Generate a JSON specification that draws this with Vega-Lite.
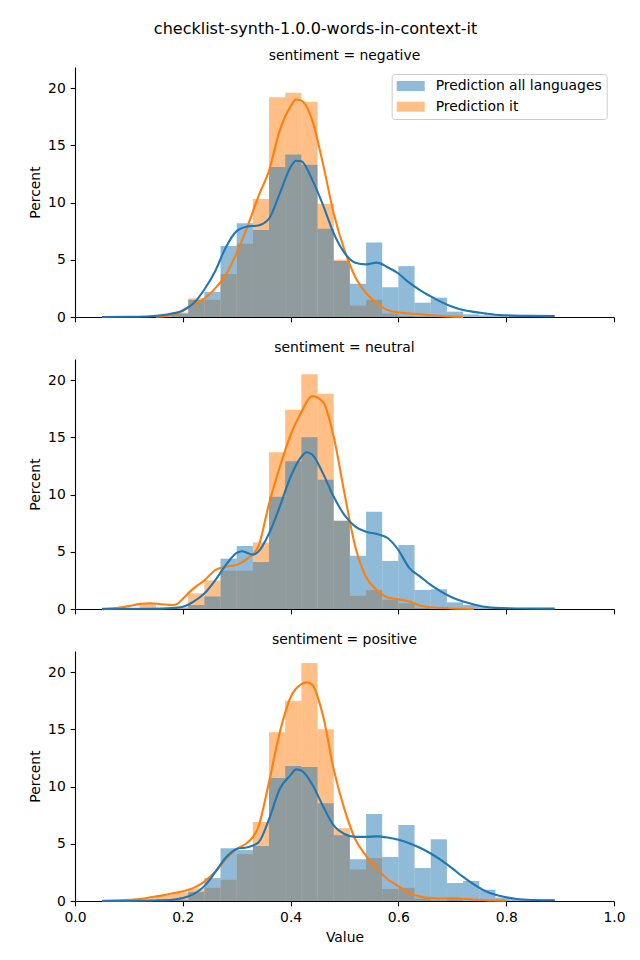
{
  "$schema": "https://vega.github.io/schema/vega-lite/v6.json",
  "padding": {"left": 28, "top": 21, "right": 15, "bottom": 10},
  "background": "white",
  "title": {"text": "checklist-synth-1.0.0-words-in-context-it", "fontSize": 16, "fontWeight": "normal", "font": "DejaVu Sans", "color": "#000", "anchor": "middle", "frame": "group", "dx": -29, "baseline": "alphabetic", "offset": -1},
  "spacing": 17,
  "resolve": {"legend": {"color": "independent"}},
  "datasets": {
    "bars": [
      {"sentiment": "negative", "series": "Prediction all languages", "bin_start": 0.06, "bin_end": 0.09, "percent": 0.05},
      {"sentiment": "negative", "series": "Prediction all languages", "bin_start": 0.09, "bin_end": 0.12, "percent": 0.05},
      {"sentiment": "negative", "series": "Prediction all languages", "bin_start": 0.12, "bin_end": 0.15, "percent": 0.05},
      {"sentiment": "negative", "series": "Prediction all languages", "bin_start": 0.15, "bin_end": 0.18, "percent": 0.05},
      {"sentiment": "negative", "series": "Prediction all languages", "bin_start": 0.18, "bin_end": 0.21, "percent": 0.3},
      {"sentiment": "negative", "series": "Prediction all languages", "bin_start": 0.21, "bin_end": 0.24, "percent": 1.5},
      {"sentiment": "negative", "series": "Prediction all languages", "bin_start": 0.24, "bin_end": 0.27, "percent": 2.2},
      {"sentiment": "negative", "series": "Prediction all languages", "bin_start": 0.27, "bin_end": 0.3, "percent": 6.2},
      {"sentiment": "negative", "series": "Prediction all languages", "bin_start": 0.3, "bin_end": 0.33, "percent": 8.2},
      {"sentiment": "negative", "series": "Prediction all languages", "bin_start": 0.33, "bin_end": 0.36, "percent": 7.6},
      {"sentiment": "negative", "series": "Prediction all languages", "bin_start": 0.36, "bin_end": 0.39, "percent": 13.1},
      {"sentiment": "negative", "series": "Prediction all languages", "bin_start": 0.39, "bin_end": 0.42, "percent": 14.2},
      {"sentiment": "negative", "series": "Prediction all languages", "bin_start": 0.42, "bin_end": 0.45, "percent": 13.3},
      {"sentiment": "negative", "series": "Prediction all languages", "bin_start": 0.45, "bin_end": 0.48, "percent": 7.7},
      {"sentiment": "negative", "series": "Prediction all languages", "bin_start": 0.48, "bin_end": 0.51, "percent": 4.9},
      {"sentiment": "negative", "series": "Prediction all languages", "bin_start": 0.51, "bin_end": 0.54, "percent": 2.9},
      {"sentiment": "negative", "series": "Prediction all languages", "bin_start": 0.54, "bin_end": 0.57, "percent": 6.5},
      {"sentiment": "negative", "series": "Prediction all languages", "bin_start": 0.57, "bin_end": 0.6, "percent": 2.6},
      {"sentiment": "negative", "series": "Prediction all languages", "bin_start": 0.6, "bin_end": 0.63, "percent": 4.45},
      {"sentiment": "negative", "series": "Prediction all languages", "bin_start": 0.63, "bin_end": 0.66, "percent": 1.25},
      {"sentiment": "negative", "series": "Prediction all languages", "bin_start": 0.66, "bin_end": 0.69, "percent": 1.69},
      {"sentiment": "negative", "series": "Prediction all languages", "bin_start": 0.69, "bin_end": 0.72, "percent": 0.47},
      {"sentiment": "negative", "series": "Prediction all languages", "bin_start": 0.72, "bin_end": 0.75, "percent": 0.23},
      {"sentiment": "negative", "series": "Prediction all languages", "bin_start": 0.75, "bin_end": 0.78, "percent": 0.15},
      {"sentiment": "negative", "series": "Prediction all languages", "bin_start": 0.78, "bin_end": 0.81, "percent": 0.1},
      {"sentiment": "negative", "series": "Prediction all languages", "bin_start": 0.81, "bin_end": 0.84, "percent": 0.08},
      {"sentiment": "negative", "series": "Prediction all languages", "bin_start": 0.84, "bin_end": 0.87, "percent": 0.08},
      {"sentiment": "negative", "series": "Prediction all languages", "bin_start": 0.87, "bin_end": 0.89, "percent": 0.05},
      {"sentiment": "negative", "series": "Prediction it", "bin_start": 0.15, "bin_end": 0.18, "percent": 0.05},
      {"sentiment": "negative", "series": "Prediction it", "bin_start": 0.18, "bin_end": 0.21, "percent": 0.4},
      {"sentiment": "negative", "series": "Prediction it", "bin_start": 0.21, "bin_end": 0.24, "percent": 1.63},
      {"sentiment": "negative", "series": "Prediction it", "bin_start": 0.24, "bin_end": 0.27, "percent": 1.5},
      {"sentiment": "negative", "series": "Prediction it", "bin_start": 0.27, "bin_end": 0.3, "percent": 3.75},
      {"sentiment": "negative", "series": "Prediction it", "bin_start": 0.3, "bin_end": 0.33, "percent": 6.4},
      {"sentiment": "negative", "series": "Prediction it", "bin_start": 0.33, "bin_end": 0.36, "percent": 10.3},
      {"sentiment": "negative", "series": "Prediction it", "bin_start": 0.36, "bin_end": 0.39, "percent": 19.2},
      {"sentiment": "negative", "series": "Prediction it", "bin_start": 0.39, "bin_end": 0.42, "percent": 19.6},
      {"sentiment": "negative", "series": "Prediction it", "bin_start": 0.42, "bin_end": 0.45, "percent": 18.8},
      {"sentiment": "negative", "series": "Prediction it", "bin_start": 0.45, "bin_end": 0.48, "percent": 9.9},
      {"sentiment": "negative", "series": "Prediction it", "bin_start": 0.48, "bin_end": 0.51, "percent": 5.0},
      {"sentiment": "negative", "series": "Prediction it", "bin_start": 0.51, "bin_end": 0.54, "percent": 1.0},
      {"sentiment": "negative", "series": "Prediction it", "bin_start": 0.54, "bin_end": 0.57, "percent": 1.5},
      {"sentiment": "negative", "series": "Prediction it", "bin_start": 0.57, "bin_end": 0.6, "percent": 0.3},
      {"sentiment": "negative", "series": "Prediction it", "bin_start": 0.6, "bin_end": 0.63, "percent": 0.1},
      {"sentiment": "negative", "series": "Prediction it", "bin_start": 0.63, "bin_end": 0.66, "percent": 0.05},

      {"sentiment": "neutral", "series": "Prediction all languages", "bin_start": 0.12, "bin_end": 0.15, "percent": 0.02},
      {"sentiment": "neutral", "series": "Prediction all languages", "bin_start": 0.18, "bin_end": 0.21, "percent": 0.05},
      {"sentiment": "neutral", "series": "Prediction all languages", "bin_start": 0.21, "bin_end": 0.24, "percent": 0.35},
      {"sentiment": "neutral", "series": "Prediction all languages", "bin_start": 0.24, "bin_end": 0.27, "percent": 1.1},
      {"sentiment": "neutral", "series": "Prediction all languages", "bin_start": 0.27, "bin_end": 0.3, "percent": 4.4},
      {"sentiment": "neutral", "series": "Prediction all languages", "bin_start": 0.3, "bin_end": 0.33, "percent": 5.5},
      {"sentiment": "neutral", "series": "Prediction all languages", "bin_start": 0.33, "bin_end": 0.36, "percent": 4.1},
      {"sentiment": "neutral", "series": "Prediction all languages", "bin_start": 0.36, "bin_end": 0.39, "percent": 9.8},
      {"sentiment": "neutral", "series": "Prediction all languages", "bin_start": 0.39, "bin_end": 0.42, "percent": 12.9},
      {"sentiment": "neutral", "series": "Prediction all languages", "bin_start": 0.42, "bin_end": 0.45, "percent": 15.0},
      {"sentiment": "neutral", "series": "Prediction all languages", "bin_start": 0.45, "bin_end": 0.48, "percent": 11.3},
      {"sentiment": "neutral", "series": "Prediction all languages", "bin_start": 0.48, "bin_end": 0.51, "percent": 7.7},
      {"sentiment": "neutral", "series": "Prediction all languages", "bin_start": 0.51, "bin_end": 0.54, "percent": 4.65},
      {"sentiment": "neutral", "series": "Prediction all languages", "bin_start": 0.54, "bin_end": 0.57, "percent": 8.5},
      {"sentiment": "neutral", "series": "Prediction all languages", "bin_start": 0.57, "bin_end": 0.6, "percent": 4.2},
      {"sentiment": "neutral", "series": "Prediction all languages", "bin_start": 0.6, "bin_end": 0.63, "percent": 5.6},
      {"sentiment": "neutral", "series": "Prediction all languages", "bin_start": 0.63, "bin_end": 0.66, "percent": 1.66},
      {"sentiment": "neutral", "series": "Prediction all languages", "bin_start": 0.66, "bin_end": 0.69, "percent": 1.72},
      {"sentiment": "neutral", "series": "Prediction all languages", "bin_start": 0.69, "bin_end": 0.72, "percent": 0.58},
      {"sentiment": "neutral", "series": "Prediction all languages", "bin_start": 0.72, "bin_end": 0.75, "percent": 0.35},
      {"sentiment": "neutral", "series": "Prediction all languages", "bin_start": 0.75, "bin_end": 0.78, "percent": 0.15},
      {"sentiment": "neutral", "series": "Prediction all languages", "bin_start": 0.78, "bin_end": 0.81, "percent": 0.05},
      {"sentiment": "neutral", "series": "Prediction all languages", "bin_start": 0.81, "bin_end": 0.84, "percent": 0.05},
      {"sentiment": "neutral", "series": "Prediction all languages", "bin_start": 0.84, "bin_end": 0.87, "percent": 0.05},
      {"sentiment": "neutral", "series": "Prediction all languages", "bin_start": 0.87, "bin_end": 0.89, "percent": 0.05},
      {"sentiment": "neutral", "series": "Prediction it", "bin_start": 0.12, "bin_end": 0.15, "percent": 0.5},
      {"sentiment": "neutral", "series": "Prediction it", "bin_start": 0.15, "bin_end": 0.18, "percent": 0.1},
      {"sentiment": "neutral", "series": "Prediction it", "bin_start": 0.18, "bin_end": 0.21, "percent": 0.2},
      {"sentiment": "neutral", "series": "Prediction it", "bin_start": 0.21, "bin_end": 0.24, "percent": 1.37},
      {"sentiment": "neutral", "series": "Prediction it", "bin_start": 0.24, "bin_end": 0.27, "percent": 2.5},
      {"sentiment": "neutral", "series": "Prediction it", "bin_start": 0.27, "bin_end": 0.3, "percent": 3.35},
      {"sentiment": "neutral", "series": "Prediction it", "bin_start": 0.3, "bin_end": 0.33, "percent": 3.35},
      {"sentiment": "neutral", "series": "Prediction it", "bin_start": 0.33, "bin_end": 0.36, "percent": 5.8},
      {"sentiment": "neutral", "series": "Prediction it", "bin_start": 0.36, "bin_end": 0.39, "percent": 13.7},
      {"sentiment": "neutral", "series": "Prediction it", "bin_start": 0.39, "bin_end": 0.42, "percent": 17.4},
      {"sentiment": "neutral", "series": "Prediction it", "bin_start": 0.42, "bin_end": 0.45, "percent": 20.5},
      {"sentiment": "neutral", "series": "Prediction it", "bin_start": 0.45, "bin_end": 0.48, "percent": 18.8},
      {"sentiment": "neutral", "series": "Prediction it", "bin_start": 0.48, "bin_end": 0.51, "percent": 7.7},
      {"sentiment": "neutral", "series": "Prediction it", "bin_start": 0.51, "bin_end": 0.54, "percent": 1.15},
      {"sentiment": "neutral", "series": "Prediction it", "bin_start": 0.54, "bin_end": 0.57, "percent": 1.65},
      {"sentiment": "neutral", "series": "Prediction it", "bin_start": 0.57, "bin_end": 0.6, "percent": 0.8},
      {"sentiment": "neutral", "series": "Prediction it", "bin_start": 0.6, "bin_end": 0.63, "percent": 0.5},
      {"sentiment": "neutral", "series": "Prediction it", "bin_start": 0.63, "bin_end": 0.66, "percent": 0.1},

      {"sentiment": "positive", "series": "Prediction all languages", "bin_start": 0.18, "bin_end": 0.21, "percent": 0.1},
      {"sentiment": "positive", "series": "Prediction all languages", "bin_start": 0.21, "bin_end": 0.24, "percent": 0.8},
      {"sentiment": "positive", "series": "Prediction all languages", "bin_start": 0.24, "bin_end": 0.27, "percent": 2.0},
      {"sentiment": "positive", "series": "Prediction all languages", "bin_start": 0.27, "bin_end": 0.3, "percent": 4.6},
      {"sentiment": "positive", "series": "Prediction all languages", "bin_start": 0.3, "bin_end": 0.33, "percent": 4.45},
      {"sentiment": "positive", "series": "Prediction all languages", "bin_start": 0.33, "bin_end": 0.36, "percent": 4.8},
      {"sentiment": "positive", "series": "Prediction all languages", "bin_start": 0.36, "bin_end": 0.39, "percent": 10.75},
      {"sentiment": "positive", "series": "Prediction all languages", "bin_start": 0.39, "bin_end": 0.42, "percent": 11.8},
      {"sentiment": "positive", "series": "Prediction all languages", "bin_start": 0.42, "bin_end": 0.45, "percent": 11.7},
      {"sentiment": "positive", "series": "Prediction all languages", "bin_start": 0.45, "bin_end": 0.48, "percent": 8.55},
      {"sentiment": "positive", "series": "Prediction all languages", "bin_start": 0.48, "bin_end": 0.51, "percent": 5.75},
      {"sentiment": "positive", "series": "Prediction all languages", "bin_start": 0.51, "bin_end": 0.54, "percent": 3.65},
      {"sentiment": "positive", "series": "Prediction all languages", "bin_start": 0.54, "bin_end": 0.57, "percent": 7.6},
      {"sentiment": "positive", "series": "Prediction all languages", "bin_start": 0.57, "bin_end": 0.6, "percent": 3.85},
      {"sentiment": "positive", "series": "Prediction all languages", "bin_start": 0.6, "bin_end": 0.63, "percent": 6.65},
      {"sentiment": "positive", "series": "Prediction all languages", "bin_start": 0.63, "bin_end": 0.66, "percent": 2.88},
      {"sentiment": "positive", "series": "Prediction all languages", "bin_start": 0.66, "bin_end": 0.69, "percent": 5.4},
      {"sentiment": "positive", "series": "Prediction all languages", "bin_start": 0.69, "bin_end": 0.72, "percent": 1.57},
      {"sentiment": "positive", "series": "Prediction all languages", "bin_start": 0.72, "bin_end": 0.75, "percent": 1.75},
      {"sentiment": "positive", "series": "Prediction all languages", "bin_start": 0.75, "bin_end": 0.78, "percent": 0.99},
      {"sentiment": "positive", "series": "Prediction all languages", "bin_start": 0.78, "bin_end": 0.81, "percent": 0.3},
      {"sentiment": "positive", "series": "Prediction all languages", "bin_start": 0.81, "bin_end": 0.84, "percent": 0.15},
      {"sentiment": "positive", "series": "Prediction all languages", "bin_start": 0.84, "bin_end": 0.87, "percent": 0.15},
      {"sentiment": "positive", "series": "Prediction all languages", "bin_start": 0.87, "bin_end": 0.89, "percent": 0.15},
      {"sentiment": "positive", "series": "Prediction it", "bin_start": 0.12, "bin_end": 0.15, "percent": 0.25},
      {"sentiment": "positive", "series": "Prediction it", "bin_start": 0.15, "bin_end": 0.18, "percent": 0.5},
      {"sentiment": "positive", "series": "Prediction it", "bin_start": 0.18, "bin_end": 0.21, "percent": 0.75},
      {"sentiment": "positive", "series": "Prediction it", "bin_start": 0.21, "bin_end": 0.24, "percent": 1.1},
      {"sentiment": "positive", "series": "Prediction it", "bin_start": 0.24, "bin_end": 0.27, "percent": 1.15},
      {"sentiment": "positive", "series": "Prediction it", "bin_start": 0.27, "bin_end": 0.3, "percent": 1.85},
      {"sentiment": "positive", "series": "Prediction it", "bin_start": 0.3, "bin_end": 0.33, "percent": 4.1},
      {"sentiment": "positive", "series": "Prediction it", "bin_start": 0.33, "bin_end": 0.36, "percent": 6.9},
      {"sentiment": "positive", "series": "Prediction it", "bin_start": 0.36, "bin_end": 0.39, "percent": 14.75},
      {"sentiment": "positive", "series": "Prediction it", "bin_start": 0.39, "bin_end": 0.42, "percent": 17.5},
      {"sentiment": "positive", "series": "Prediction it", "bin_start": 0.42, "bin_end": 0.45, "percent": 20.8},
      {"sentiment": "positive", "series": "Prediction it", "bin_start": 0.45, "bin_end": 0.48, "percent": 15.0},
      {"sentiment": "positive", "series": "Prediction it", "bin_start": 0.48, "bin_end": 0.51, "percent": 6.35},
      {"sentiment": "positive", "series": "Prediction it", "bin_start": 0.51, "bin_end": 0.54, "percent": 2.75},
      {"sentiment": "positive", "series": "Prediction it", "bin_start": 0.54, "bin_end": 0.57, "percent": 3.75},
      {"sentiment": "positive", "series": "Prediction it", "bin_start": 0.57, "bin_end": 0.6, "percent": 1.05},
      {"sentiment": "positive", "series": "Prediction it", "bin_start": 0.6, "bin_end": 0.63, "percent": 1.15},
      {"sentiment": "positive", "series": "Prediction it", "bin_start": 0.63, "bin_end": 0.66, "percent": 0.2},
      {"sentiment": "positive", "series": "Prediction it", "bin_start": 0.66, "bin_end": 0.69, "percent": 0.05},
      {"sentiment": "positive", "series": "Prediction it", "bin_start": 0.69, "bin_end": 0.72, "percent": 0.2}
    ],
    "kde": [
      {"sentiment": "negative", "series": "all", "x": 0.05, "y": 0.0},
      {"sentiment": "negative", "series": "all", "x": 0.1, "y": 0.02},
      {"sentiment": "negative", "series": "all", "x": 0.14, "y": 0.07},
      {"sentiment": "negative", "series": "all", "x": 0.16, "y": 0.15},
      {"sentiment": "negative", "series": "all", "x": 0.18, "y": 0.3},
      {"sentiment": "negative", "series": "all", "x": 0.2, "y": 0.55},
      {"sentiment": "negative", "series": "all", "x": 0.22, "y": 1.2},
      {"sentiment": "negative", "series": "all", "x": 0.24, "y": 2.4},
      {"sentiment": "negative", "series": "all", "x": 0.26, "y": 4.0},
      {"sentiment": "negative", "series": "all", "x": 0.28, "y": 6.1},
      {"sentiment": "negative", "series": "all", "x": 0.3, "y": 7.5},
      {"sentiment": "negative", "series": "all", "x": 0.32, "y": 7.9},
      {"sentiment": "negative", "series": "all", "x": 0.34, "y": 8.0},
      {"sentiment": "negative", "series": "all", "x": 0.36, "y": 8.6},
      {"sentiment": "negative", "series": "all", "x": 0.38, "y": 10.8},
      {"sentiment": "negative", "series": "all", "x": 0.4, "y": 13.1},
      {"sentiment": "negative", "series": "all", "x": 0.41, "y": 13.65},
      {"sentiment": "negative", "series": "all", "x": 0.42, "y": 13.6},
      {"sentiment": "negative", "series": "all", "x": 0.44, "y": 12.0},
      {"sentiment": "negative", "series": "all", "x": 0.46, "y": 9.8},
      {"sentiment": "negative", "series": "all", "x": 0.48, "y": 7.3},
      {"sentiment": "negative", "series": "all", "x": 0.5, "y": 5.6},
      {"sentiment": "negative", "series": "all", "x": 0.52, "y": 4.75},
      {"sentiment": "negative", "series": "all", "x": 0.54, "y": 4.6},
      {"sentiment": "negative", "series": "all", "x": 0.56, "y": 4.75},
      {"sentiment": "negative", "series": "all", "x": 0.58, "y": 4.35},
      {"sentiment": "negative", "series": "all", "x": 0.6, "y": 3.8},
      {"sentiment": "negative", "series": "all", "x": 0.62, "y": 3.0},
      {"sentiment": "negative", "series": "all", "x": 0.64, "y": 2.35},
      {"sentiment": "negative", "series": "all", "x": 0.66, "y": 1.8},
      {"sentiment": "negative", "series": "all", "x": 0.68, "y": 1.3},
      {"sentiment": "negative", "series": "all", "x": 0.7, "y": 0.9},
      {"sentiment": "negative", "series": "all", "x": 0.72, "y": 0.62},
      {"sentiment": "negative", "series": "all", "x": 0.74, "y": 0.45},
      {"sentiment": "negative", "series": "all", "x": 0.76, "y": 0.32},
      {"sentiment": "negative", "series": "all", "x": 0.78, "y": 0.2},
      {"sentiment": "negative", "series": "all", "x": 0.8, "y": 0.15},
      {"sentiment": "negative", "series": "all", "x": 0.84, "y": 0.1},
      {"sentiment": "negative", "series": "all", "x": 0.89, "y": 0.08},
      {"sentiment": "negative", "series": "it", "x": 0.15, "y": 0.02},
      {"sentiment": "negative", "series": "it", "x": 0.17, "y": 0.1},
      {"sentiment": "negative", "series": "it", "x": 0.19, "y": 0.3},
      {"sentiment": "negative", "series": "it", "x": 0.2, "y": 0.6},
      {"sentiment": "negative", "series": "it", "x": 0.22, "y": 1.1},
      {"sentiment": "negative", "series": "it", "x": 0.24, "y": 1.6},
      {"sentiment": "negative", "series": "it", "x": 0.26, "y": 2.5},
      {"sentiment": "negative", "series": "it", "x": 0.28, "y": 3.7},
      {"sentiment": "negative", "series": "it", "x": 0.3, "y": 5.6},
      {"sentiment": "negative", "series": "it", "x": 0.32, "y": 7.9},
      {"sentiment": "negative", "series": "it", "x": 0.34, "y": 10.5},
      {"sentiment": "negative", "series": "it", "x": 0.36, "y": 12.8},
      {"sentiment": "negative", "series": "it", "x": 0.38, "y": 16.3},
      {"sentiment": "negative", "series": "it", "x": 0.4, "y": 18.4},
      {"sentiment": "negative", "series": "it", "x": 0.41, "y": 19.0},
      {"sentiment": "negative", "series": "it", "x": 0.42, "y": 18.9},
      {"sentiment": "negative", "series": "it", "x": 0.44, "y": 17.2},
      {"sentiment": "negative", "series": "it", "x": 0.46, "y": 13.4},
      {"sentiment": "negative", "series": "it", "x": 0.48, "y": 9.05},
      {"sentiment": "negative", "series": "it", "x": 0.5, "y": 5.85},
      {"sentiment": "negative", "series": "it", "x": 0.52, "y": 3.5},
      {"sentiment": "negative", "series": "it", "x": 0.54, "y": 2.1},
      {"sentiment": "negative", "series": "it", "x": 0.56, "y": 1.2},
      {"sentiment": "negative", "series": "it", "x": 0.58, "y": 0.6},
      {"sentiment": "negative", "series": "it", "x": 0.6, "y": 0.4},
      {"sentiment": "negative", "series": "it", "x": 0.62, "y": 0.3},
      {"sentiment": "negative", "series": "it", "x": 0.64, "y": 0.26},
      {"sentiment": "negative", "series": "it", "x": 0.66, "y": 0.15},
      {"sentiment": "negative", "series": "it", "x": 0.68, "y": 0.08},
      {"sentiment": "negative", "series": "it", "x": 0.7, "y": 0.03},
      {"sentiment": "negative", "series": "it", "x": 0.72, "y": 0.01},

      {"sentiment": "neutral", "series": "all", "x": 0.05, "y": 0.0},
      {"sentiment": "neutral", "series": "all", "x": 0.14, "y": 0.02},
      {"sentiment": "neutral", "series": "all", "x": 0.18, "y": 0.08},
      {"sentiment": "neutral", "series": "all", "x": 0.2, "y": 0.2},
      {"sentiment": "neutral", "series": "all", "x": 0.22, "y": 0.65},
      {"sentiment": "neutral", "series": "all", "x": 0.24, "y": 1.35},
      {"sentiment": "neutral", "series": "all", "x": 0.26, "y": 2.5},
      {"sentiment": "neutral", "series": "all", "x": 0.28, "y": 3.85},
      {"sentiment": "neutral", "series": "all", "x": 0.3, "y": 4.9},
      {"sentiment": "neutral", "series": "all", "x": 0.31, "y": 5.05},
      {"sentiment": "neutral", "series": "all", "x": 0.32, "y": 4.9},
      {"sentiment": "neutral", "series": "all", "x": 0.33, "y": 4.75},
      {"sentiment": "neutral", "series": "all", "x": 0.34, "y": 5.0},
      {"sentiment": "neutral", "series": "all", "x": 0.36, "y": 6.6},
      {"sentiment": "neutral", "series": "all", "x": 0.38, "y": 8.95},
      {"sentiment": "neutral", "series": "all", "x": 0.4, "y": 11.55},
      {"sentiment": "neutral", "series": "all", "x": 0.42, "y": 13.3},
      {"sentiment": "neutral", "series": "all", "x": 0.43, "y": 13.7},
      {"sentiment": "neutral", "series": "all", "x": 0.44, "y": 13.5},
      {"sentiment": "neutral", "series": "all", "x": 0.46, "y": 11.85},
      {"sentiment": "neutral", "series": "all", "x": 0.48, "y": 9.8},
      {"sentiment": "neutral", "series": "all", "x": 0.5, "y": 8.2},
      {"sentiment": "neutral", "series": "all", "x": 0.52, "y": 7.2},
      {"sentiment": "neutral", "series": "all", "x": 0.54, "y": 6.75},
      {"sentiment": "neutral", "series": "all", "x": 0.56, "y": 6.55},
      {"sentiment": "neutral", "series": "all", "x": 0.58, "y": 6.2},
      {"sentiment": "neutral", "series": "all", "x": 0.6, "y": 5.15},
      {"sentiment": "neutral", "series": "all", "x": 0.62, "y": 3.6},
      {"sentiment": "neutral", "series": "all", "x": 0.64, "y": 2.85},
      {"sentiment": "neutral", "series": "all", "x": 0.66, "y": 2.1},
      {"sentiment": "neutral", "series": "all", "x": 0.68, "y": 1.5},
      {"sentiment": "neutral", "series": "all", "x": 0.7, "y": 1.0},
      {"sentiment": "neutral", "series": "all", "x": 0.72, "y": 0.65},
      {"sentiment": "neutral", "series": "all", "x": 0.74, "y": 0.4},
      {"sentiment": "neutral", "series": "all", "x": 0.76, "y": 0.2},
      {"sentiment": "neutral", "series": "all", "x": 0.78, "y": 0.1},
      {"sentiment": "neutral", "series": "all", "x": 0.82, "y": 0.05},
      {"sentiment": "neutral", "series": "all", "x": 0.89, "y": 0.03},
      {"sentiment": "neutral", "series": "it", "x": 0.05, "y": 0.02},
      {"sentiment": "neutral", "series": "it", "x": 0.08, "y": 0.1},
      {"sentiment": "neutral", "series": "it", "x": 0.1, "y": 0.25},
      {"sentiment": "neutral", "series": "it", "x": 0.12, "y": 0.45},
      {"sentiment": "neutral", "series": "it", "x": 0.14, "y": 0.5},
      {"sentiment": "neutral", "series": "it", "x": 0.16, "y": 0.42},
      {"sentiment": "neutral", "series": "it", "x": 0.18, "y": 0.35},
      {"sentiment": "neutral", "series": "it", "x": 0.19, "y": 0.45},
      {"sentiment": "neutral", "series": "it", "x": 0.2, "y": 0.9},
      {"sentiment": "neutral", "series": "it", "x": 0.22, "y": 1.8},
      {"sentiment": "neutral", "series": "it", "x": 0.24, "y": 2.5},
      {"sentiment": "neutral", "series": "it", "x": 0.26, "y": 3.4},
      {"sentiment": "neutral", "series": "it", "x": 0.28, "y": 3.7},
      {"sentiment": "neutral", "series": "it", "x": 0.3, "y": 3.85},
      {"sentiment": "neutral", "series": "it", "x": 0.32, "y": 4.4},
      {"sentiment": "neutral", "series": "it", "x": 0.34, "y": 5.45},
      {"sentiment": "neutral", "series": "it", "x": 0.36, "y": 9.2},
      {"sentiment": "neutral", "series": "it", "x": 0.38, "y": 12.4},
      {"sentiment": "neutral", "series": "it", "x": 0.4, "y": 15.2},
      {"sentiment": "neutral", "series": "it", "x": 0.42, "y": 17.2},
      {"sentiment": "neutral", "series": "it", "x": 0.44, "y": 18.6},
      {"sentiment": "neutral", "series": "it", "x": 0.46, "y": 18.1},
      {"sentiment": "neutral", "series": "it", "x": 0.48, "y": 15.05},
      {"sentiment": "neutral", "series": "it", "x": 0.5, "y": 10.1},
      {"sentiment": "neutral", "series": "it", "x": 0.52, "y": 5.45},
      {"sentiment": "neutral", "series": "it", "x": 0.54, "y": 2.8},
      {"sentiment": "neutral", "series": "it", "x": 0.56, "y": 1.65},
      {"sentiment": "neutral", "series": "it", "x": 0.58, "y": 1.0},
      {"sentiment": "neutral", "series": "it", "x": 0.6, "y": 0.85},
      {"sentiment": "neutral", "series": "it", "x": 0.62, "y": 0.65},
      {"sentiment": "neutral", "series": "it", "x": 0.64, "y": 0.3},
      {"sentiment": "neutral", "series": "it", "x": 0.66, "y": 0.15},
      {"sentiment": "neutral", "series": "it", "x": 0.7, "y": 0.05},
      {"sentiment": "neutral", "series": "it", "x": 0.74, "y": 0.01},

      {"sentiment": "positive", "series": "all", "x": 0.05, "y": 0.0},
      {"sentiment": "positive", "series": "all", "x": 0.15, "y": 0.05},
      {"sentiment": "positive", "series": "all", "x": 0.18, "y": 0.1},
      {"sentiment": "positive", "series": "all", "x": 0.2, "y": 0.25},
      {"sentiment": "positive", "series": "all", "x": 0.22, "y": 0.6},
      {"sentiment": "positive", "series": "all", "x": 0.24, "y": 1.3},
      {"sentiment": "positive", "series": "all", "x": 0.26, "y": 2.5},
      {"sentiment": "positive", "series": "all", "x": 0.28, "y": 3.8},
      {"sentiment": "positive", "series": "all", "x": 0.3, "y": 4.55},
      {"sentiment": "positive", "series": "all", "x": 0.32, "y": 4.7},
      {"sentiment": "positive", "series": "all", "x": 0.34, "y": 5.1},
      {"sentiment": "positive", "series": "all", "x": 0.36, "y": 7.15},
      {"sentiment": "positive", "series": "all", "x": 0.38, "y": 9.8},
      {"sentiment": "positive", "series": "all", "x": 0.4, "y": 11.0},
      {"sentiment": "positive", "series": "all", "x": 0.41, "y": 11.5},
      {"sentiment": "positive", "series": "all", "x": 0.42, "y": 11.4},
      {"sentiment": "positive", "series": "all", "x": 0.44, "y": 10.2},
      {"sentiment": "positive", "series": "all", "x": 0.46, "y": 8.3},
      {"sentiment": "positive", "series": "all", "x": 0.48, "y": 6.6},
      {"sentiment": "positive", "series": "all", "x": 0.5, "y": 5.85},
      {"sentiment": "positive", "series": "all", "x": 0.52, "y": 5.6},
      {"sentiment": "positive", "series": "all", "x": 0.54, "y": 5.6},
      {"sentiment": "positive", "series": "all", "x": 0.56, "y": 5.65},
      {"sentiment": "positive", "series": "all", "x": 0.58, "y": 5.55},
      {"sentiment": "positive", "series": "all", "x": 0.6, "y": 5.35},
      {"sentiment": "positive", "series": "all", "x": 0.62, "y": 5.05},
      {"sentiment": "positive", "series": "all", "x": 0.64, "y": 4.65},
      {"sentiment": "positive", "series": "all", "x": 0.66, "y": 4.15},
      {"sentiment": "positive", "series": "all", "x": 0.68, "y": 3.55},
      {"sentiment": "positive", "series": "all", "x": 0.7, "y": 2.85},
      {"sentiment": "positive", "series": "all", "x": 0.72, "y": 2.1},
      {"sentiment": "positive", "series": "all", "x": 0.74, "y": 1.45},
      {"sentiment": "positive", "series": "all", "x": 0.76, "y": 0.9},
      {"sentiment": "positive", "series": "all", "x": 0.78, "y": 0.55},
      {"sentiment": "positive", "series": "all", "x": 0.8, "y": 0.32},
      {"sentiment": "positive", "series": "all", "x": 0.82, "y": 0.17},
      {"sentiment": "positive", "series": "all", "x": 0.85, "y": 0.09},
      {"sentiment": "positive", "series": "all", "x": 0.89, "y": 0.06},
      {"sentiment": "positive", "series": "it", "x": 0.05, "y": 0.02},
      {"sentiment": "positive", "series": "it", "x": 0.1, "y": 0.1},
      {"sentiment": "positive", "series": "it", "x": 0.12, "y": 0.17},
      {"sentiment": "positive", "series": "it", "x": 0.14, "y": 0.32},
      {"sentiment": "positive", "series": "it", "x": 0.16, "y": 0.47},
      {"sentiment": "positive", "series": "it", "x": 0.18, "y": 0.65},
      {"sentiment": "positive", "series": "it", "x": 0.2, "y": 0.85},
      {"sentiment": "positive", "series": "it", "x": 0.22, "y": 1.15},
      {"sentiment": "positive", "series": "it", "x": 0.24, "y": 1.7},
      {"sentiment": "positive", "series": "it", "x": 0.26, "y": 2.55},
      {"sentiment": "positive", "series": "it", "x": 0.28, "y": 3.65},
      {"sentiment": "positive", "series": "it", "x": 0.3, "y": 4.55},
      {"sentiment": "positive", "series": "it", "x": 0.32, "y": 5.1},
      {"sentiment": "positive", "series": "it", "x": 0.34, "y": 6.45},
      {"sentiment": "positive", "series": "it", "x": 0.36, "y": 10.4},
      {"sentiment": "positive", "series": "it", "x": 0.38, "y": 14.75},
      {"sentiment": "positive", "series": "it", "x": 0.4, "y": 17.8},
      {"sentiment": "positive", "series": "it", "x": 0.42, "y": 18.95},
      {"sentiment": "positive", "series": "it", "x": 0.43, "y": 19.1},
      {"sentiment": "positive", "series": "it", "x": 0.44, "y": 18.9},
      {"sentiment": "positive", "series": "it", "x": 0.46, "y": 16.2},
      {"sentiment": "positive", "series": "it", "x": 0.48, "y": 11.5},
      {"sentiment": "positive", "series": "it", "x": 0.5, "y": 8.0},
      {"sentiment": "positive", "series": "it", "x": 0.52, "y": 5.4},
      {"sentiment": "positive", "series": "it", "x": 0.54, "y": 3.95},
      {"sentiment": "positive", "series": "it", "x": 0.56, "y": 2.85},
      {"sentiment": "positive", "series": "it", "x": 0.58, "y": 1.9},
      {"sentiment": "positive", "series": "it", "x": 0.6, "y": 1.3},
      {"sentiment": "positive", "series": "it", "x": 0.62, "y": 0.7},
      {"sentiment": "positive", "series": "it", "x": 0.64, "y": 0.4},
      {"sentiment": "positive", "series": "it", "x": 0.66, "y": 0.25},
      {"sentiment": "positive", "series": "it", "x": 0.68, "y": 0.22},
      {"sentiment": "positive", "series": "it", "x": 0.7, "y": 0.26},
      {"sentiment": "positive", "series": "it", "x": 0.72, "y": 0.2},
      {"sentiment": "positive", "series": "it", "x": 0.74, "y": 0.12},
      {"sentiment": "positive", "series": "it", "x": 0.76, "y": 0.08},
      {"sentiment": "positive", "series": "it", "x": 0.8, "y": 0.03}
    ]
  },
  "vconcat": [
    {
      "width": 539, "height": 250,
      "title": {"text": "sentiment = negative"},
      "layer": [
        {"data": {"name": "bars"}, "transform": [{"filter": "datum.sentiment == 'negative' && datum.series == 'Prediction it'"}],
         "mark": {"type": "bar", "opacity": 0.5},
         "encoding": {
           "x": {"field": "bin_start", "type": "quantitative", "scale": {"domain": [0, 1], "nice": false}, "axis": {"values": [0, 0.2, 0.4, 0.6, 0.8, 1.0], "labels": false, "title": null}},
           "x2": {"field": "bin_end"},
           "y": {"field": "percent", "type": "quantitative", "scale": {"domain": [0, 21.84], "nice": false}, "axis": {"values": [0, 5, 10, 15, 20], "title": "Percent"}},
           "y2": {"datum": 0},
           "color": {"field": "series", "type": "nominal", "scale": {"domain": ["Prediction all languages", "Prediction it"], "range": ["#1f77b4", "#ff7f0e"]},
             "legend": {"orient": "none", "legendX": 316.7, "legendY": 7, "title": null}}}},
        {"data": {"name": "bars"}, "transform": [{"filter": "datum.sentiment == 'negative' && datum.series == 'Prediction all languages'"}],
         "mark": {"type": "bar", "opacity": 0.5},
         "encoding": {
           "x": {"field": "bin_start", "type": "quantitative"},
           "x2": {"field": "bin_end"},
           "y": {"field": "percent", "type": "quantitative"},
           "y2": {"datum": 0},
           "color": {"field": "series", "type": "nominal"}}},
        {"data": {"name": "kde"}, "transform": [{"filter": "datum.sentiment == 'negative' && datum.series == 'it'"}],
         "mark": {"type": "line", "color": "#ff7f0e", "strokeWidth": 2.1, "interpolate": "monotone"},
         "encoding": {"x": {"field": "x", "type": "quantitative"}, "y": {"field": "y", "type": "quantitative"}}},
        {"data": {"name": "kde"}, "transform": [{"filter": "datum.sentiment == 'negative' && datum.series == 'all'"}],
         "mark": {"type": "line", "color": "#1f77b4", "strokeWidth": 2.1, "interpolate": "monotone"},
         "encoding": {"x": {"field": "x", "type": "quantitative"}, "y": {"field": "y", "type": "quantitative"}}}
      ]
    },
    {
      "width": 539, "height": 250,
      "title": {"text": "sentiment = neutral"},
      "layer": [
        {"data": {"name": "bars"}, "transform": [{"filter": "datum.sentiment == 'neutral' && datum.series == 'Prediction it'"}],
         "mark": {"type": "bar", "opacity": 0.5},
         "encoding": {
           "x": {"field": "bin_start", "type": "quantitative", "scale": {"domain": [0, 1], "nice": false}, "axis": {"values": [0, 0.2, 0.4, 0.6, 0.8, 1.0], "labels": false, "title": null}},
           "x2": {"field": "bin_end"},
           "y": {"field": "percent", "type": "quantitative", "scale": {"domain": [0, 21.84], "nice": false}, "axis": {"values": [0, 5, 10, 15, 20], "title": "Percent"}},
           "y2": {"datum": 0},
           "color": {"field": "series", "type": "nominal", "scale": {"domain": ["Prediction all languages", "Prediction it"], "range": ["#1f77b4", "#ff7f0e"]}, "legend": null}}},
        {"data": {"name": "bars"}, "transform": [{"filter": "datum.sentiment == 'neutral' && datum.series == 'Prediction all languages'"}],
         "mark": {"type": "bar", "opacity": 0.5},
         "encoding": {
           "x": {"field": "bin_start", "type": "quantitative"},
           "x2": {"field": "bin_end"},
           "y": {"field": "percent", "type": "quantitative"},
           "y2": {"datum": 0},
           "color": {"field": "series", "type": "nominal", "legend": null}}},
        {"data": {"name": "kde"}, "transform": [{"filter": "datum.sentiment == 'neutral' && datum.series == 'it'"}],
         "mark": {"type": "line", "color": "#ff7f0e", "strokeWidth": 2.1, "interpolate": "monotone"},
         "encoding": {"x": {"field": "x", "type": "quantitative"}, "y": {"field": "y", "type": "quantitative"}}},
        {"data": {"name": "kde"}, "transform": [{"filter": "datum.sentiment == 'neutral' && datum.series == 'all'"}],
         "mark": {"type": "line", "color": "#1f77b4", "strokeWidth": 2.1, "interpolate": "monotone"},
         "encoding": {"x": {"field": "x", "type": "quantitative"}, "y": {"field": "y", "type": "quantitative"}}}
      ]
    },
    {
      "width": 539, "height": 250,
      "title": {"text": "sentiment = positive"},
      "layer": [
        {"data": {"name": "bars"}, "transform": [{"filter": "datum.sentiment == 'positive' && datum.series == 'Prediction it'"}],
         "mark": {"type": "bar", "opacity": 0.5},
         "encoding": {
           "x": {"field": "bin_start", "type": "quantitative", "scale": {"domain": [0, 1], "nice": false}, "axis": {"values": [0, 0.2, 0.4, 0.6, 0.8, 1.0], "format": ".1f", "title": "Value"}},
           "x2": {"field": "bin_end"},
           "y": {"field": "percent", "type": "quantitative", "scale": {"domain": [0, 21.84], "nice": false}, "axis": {"values": [0, 5, 10, 15, 20], "title": "Percent"}},
           "y2": {"datum": 0},
           "color": {"field": "series", "type": "nominal", "scale": {"domain": ["Prediction all languages", "Prediction it"], "range": ["#1f77b4", "#ff7f0e"]}, "legend": null}}},
        {"data": {"name": "bars"}, "transform": [{"filter": "datum.sentiment == 'positive' && datum.series == 'Prediction all languages'"}],
         "mark": {"type": "bar", "opacity": 0.5},
         "encoding": {
           "x": {"field": "bin_start", "type": "quantitative"},
           "x2": {"field": "bin_end"},
           "y": {"field": "percent", "type": "quantitative"},
           "y2": {"datum": 0},
           "color": {"field": "series", "type": "nominal", "legend": null}}},
        {"data": {"name": "kde"}, "transform": [{"filter": "datum.sentiment == 'positive' && datum.series == 'it'"}],
         "mark": {"type": "line", "color": "#ff7f0e", "strokeWidth": 2.1, "interpolate": "monotone"},
         "encoding": {"x": {"field": "x", "type": "quantitative"}, "y": {"field": "y", "type": "quantitative"}}},
        {"data": {"name": "kde"}, "transform": [{"filter": "datum.sentiment == 'positive' && datum.series == 'all'"}],
         "mark": {"type": "line", "color": "#1f77b4", "strokeWidth": 2.1, "interpolate": "monotone"},
         "encoding": {"x": {"field": "x", "type": "quantitative"}, "y": {"field": "y", "type": "quantitative"}}}
      ]
    }
  ],
  "config": {
    "font": "DejaVu Sans",
    "view": {"stroke": null},
    "title": {"fontSize": 13.9, "fontWeight": "normal", "color": "#000", "anchor": "middle", "frame": "group", "baseline": "alphabetic", "offset": 4},
    "axis": {"grid": false, "domainColor": "#000", "tickColor": "#000", "labelColor": "#000", "titleColor": "#000", "labelFontSize": 13.9, "titleFontSize": 13.9, "titleFontWeight": "normal", "tickSize": 4.86, "tickWidth": 1.1, "domainWidth": 1.1, "labelPadding": 4.86, "titlePadding": 5.6, "labelFlush": false, "labelOverlap": false, "labelBound": false},
    "bar": {"binSpacing": 0, "strokeWidth": 0},
    "legend": {"labelFontSize": 13.9, "labelColor": "#000", "labelLimit": 400, "symbolType": "M-1,-0.714L3,-0.714L3,0.714L-1,0.714Z", "symbolSize": 196, "symbolOpacity": 0.5, "symbolStrokeWidth": 0, "labelOffset": 25, "rowPadding": 6.7, "padding": 5, "fillColor": "rgba(255,255,255,0.8)", "strokeColor": "#cccccc", "strokeWidth": 1, "cornerRadius": 3}
  }
}
